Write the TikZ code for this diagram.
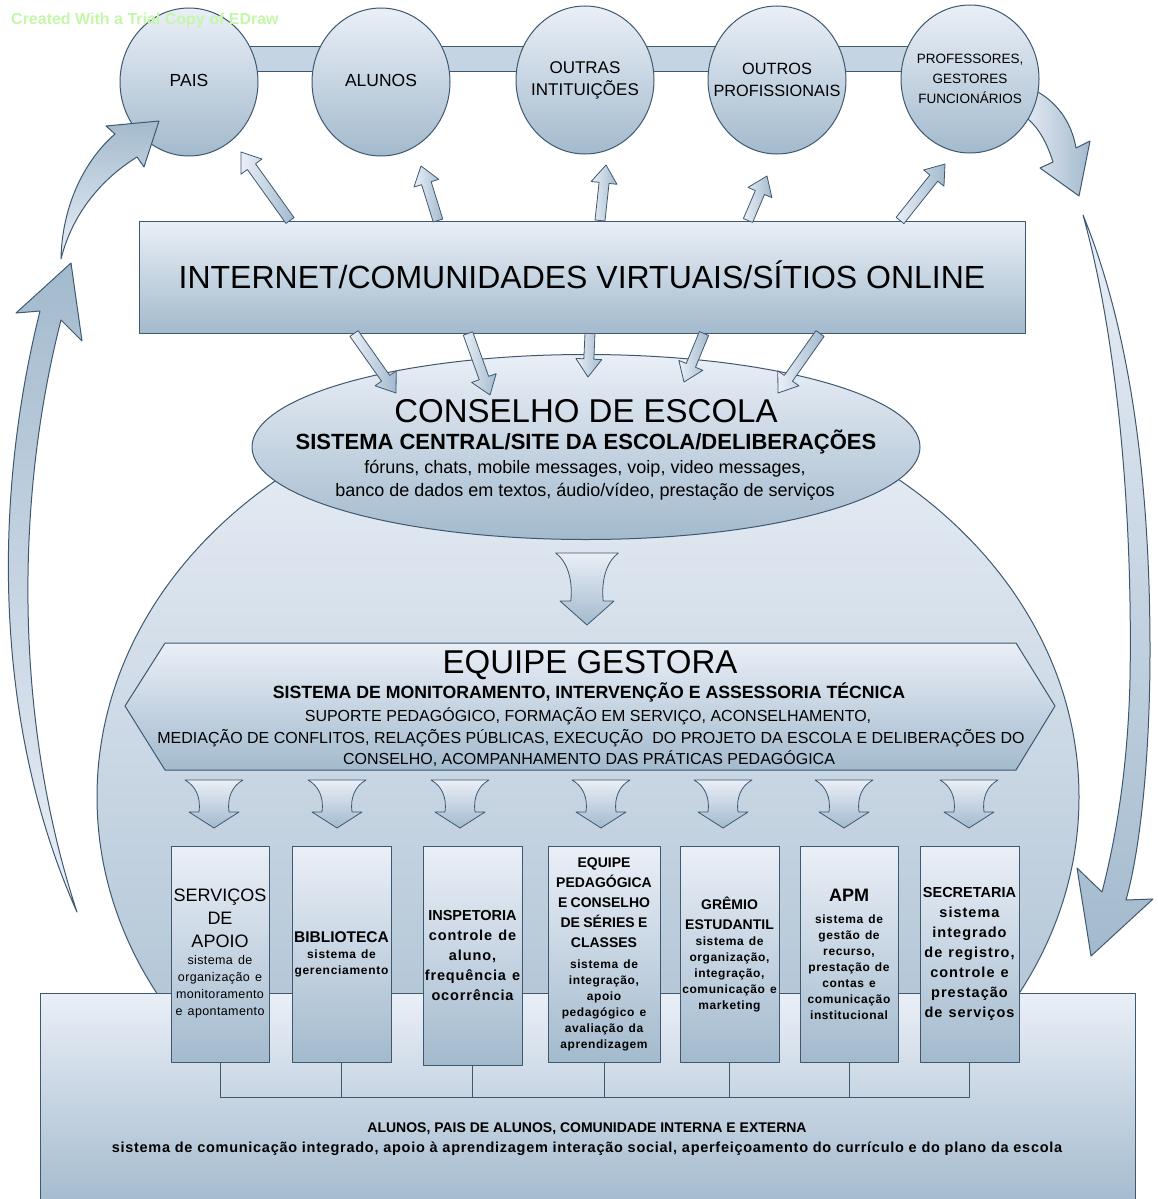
\documentclass[tikz,border=0pt]{standalone}
\usepackage{fontspec}
\setmainfont{Liberation Sans}
\usetikzlibrary{calc,shapes.geometric}

\definecolor{linec}{RGB}{62,88,112}
\definecolor{lightc}{RGB}{234,239,247}
\definecolor{darkc}{RGB}{163,186,205}
\definecolor{midc}{RGB}{196,212,226}
\definecolor{markc}{RGB}{196,247,168}

\newcommand{\setfs}[2]{\fontsize{#1}{#2}\selectfont}
\newcommand{\spread}[1]{\addfontfeatures{LetterSpace=#1}\spaceskip=0.42em\relax}
\newcommand{\blockarrow}[2]{%
  \draw[blockarr] ($(#1)!5pt!90:(#2)$) -- ($(#2)!18pt!(#1)!5pt!90:(#2)$)
    -- ($(#2)!18pt!(#1)!13pt!90:(#2)$) -- (#2)
    -- ($(#2)!18pt!(#1)!13pt!-90:(#2)$) -- ($(#2)!18pt!(#1)!5pt!-90:(#2)$)
    -- ($(#1)!5pt!-90:(#2)$) -- cycle;}

\begin{document}
\begin{tikzpicture}[x=1pt,y=-1pt,line join=round,
  grad/.style={draw=linec,line width=1pt,top color=lightc,bottom color=darkc},
  bubble/.style={grad,ellipse,minimum width=138pt,minimum height=148pt,inner sep=0pt},
  bubbletext/.style={align=center,inner sep=0pt,font=\setfs{17}{22}},
  unitbox/.style={grad,rectangle,minimum height=216pt,inner sep=1pt,text width=#1,align=center},
  blockarr/.style={draw=linec,line width=0.8pt,left color=lightc,right color=darkc},
  funnel/.style={draw=linec,line width=0.8pt,top color=lightc,bottom color=darkc},
  cres/.style={draw=linec,line width=1pt},
  treeline/.style={draw=linec,line width=1pt},
  txt/.style={anchor=base,inner sep=0pt},
  downarr/.pic={\draw[funnel] (-29,0) -- (29,0) .. controls (18,6) and (13,18) .. (15,32)
    -- (25,32) -- (0,48) -- (-25,32) -- (-15,32) .. controls (-13,18) and (-18,6) .. (-29,0) -- cycle;}
]
\useasboundingbox (0,0) rectangle (1158,1199);

% arrows round the picture
\draw[cres,top color=darkc,bottom color=lightc] (77,912) .. controls (0,740) and (-12,520) .. (40,311)
  -- (16,313) -- (71,263) -- (82,341) -- (61,320) .. controls (10,520) and (20,740) .. (77,912) -- cycle;
\draw[cres,left color=lightc,right color=darkc] (1018,90) -- (1038,92) .. controls (1060,105) and (1072,125) .. (1076,148)
  -- (1090,141) -- (1079,196) -- (1040,168) -- (1053,162) .. controls (1046,140) and (1036,122) .. (1018,112) -- cycle;
\draw[cres,top color=lightc,bottom color=darkc] (1083,215) .. controls (1130,330) and (1150,480) .. (1150,650)
  .. controls (1150,760) and (1140,850) .. (1126,900) -- (1153,899) -- (1091,956) -- (1077,868) -- (1102,892)
  .. controls (1118,830) and (1128,760) .. (1130,680) .. controls (1133,500) and (1115,330) .. (1083,215) -- cycle;

% people
\draw[draw=linec,line width=1pt,fill=midc] (189,47) rectangle (970,72);
\node[bubble] (pais) at (189,82) {};
\node[bubble] (alunos) at (381,82) {};
\node[bubble] (outras) at (585,80) {};
\node[bubble] (outros) at (777,80) {};
\node[bubble] (profs) at (970,79) {};
\node[bubbletext,font=\setfs{17.5}{22}] (paisT) at (189,80) {PAIS};
\node[bubbletext,font=\setfs{17.5}{22}] (alunosT) at (381,80) {ALUNOS};
\node[bubbletext] (outrasT) at (outras) {OUTRAS\\INTITUIÇÕES};
\node[bubbletext,font=\setfs{16.3}{22}] (outrosT) at (outros) {OUTROS\\PROFISSIONAIS};
\node[bubbletext,font=\setfs{13.5}{20}] (profsT) at (profs) {PROFESSORES,\\GESTORES\\FUNCIONÁRIOS};

\draw[cres,top color=darkc,bottom color=lightc] (61,259) .. controls (62,205) and (85,160) .. (115,134)
  -- (106,126) -- (159,121) -- (144,167) -- (137,157) .. controls (100,180) and (72,215) .. (61,259) -- cycle;

% school
\node[grad,ellipse,minimum width=982pt,minimum height=820pt,inner sep=0pt] (escola) at (588,797) {};
\node[grad,rectangle,minimum width=1095pt,minimum height=214pt,inner sep=0pt] (base) at (587.5,1100) {};
\node[txt,font=\bfseries\setfs{14}{17}] (baseT1) at (587,1132) {ALUNOS, PAIS DE ALUNOS, COMUNIDADE INTERNA E EXTERNA};
\node[txt,font=\bfseries\setfs{14.5}{17}\addfontfeatures{LetterSpace=5}] (baseT2) at (587,1152) {sistema de comunicação integrado, apoio à aprendizagem interação social, aperfeiçoamento do currículo e do plano da escola};

\node[unitbox=96pt] (serv) at (220,954)
  {{\setfs{18}{23}SERVIÇOS\\DE\\APOIO\par}{\setfs{12.5}{17}\spread{3}sistema de\\organização e\\monitoramento\\e apontamento\par}};
\node[unitbox=97pt] (bibl) at (341.5,954)
  {{\bfseries\setfs{15.5}{19}BIBLIOTECA\par}{\bfseries\setfs{12}{16}\spread{6}sistema de\\gerenciamento\par}};
\node[unitbox=97pt,minimum height=219pt] (insp) at (472.5,955.5)
  {{\bfseries\setfs{14.5}{20}INSPETORIA\par}{\bfseries\setfs{14.5}{20}\spread{6}controle de\\aluno,\\frequência e\\ocorrência\par}};
\node[unitbox=110pt] (eqped) at (604,954)
  {{\bfseries\setfs{14}{20}EQUIPE\\PEDAGÓGICA\\E CONSELHO\\DE SÉRIES E\\CLASSES\par}\vspace{5pt}%
   {\bfseries\setfs{12}{16}\spread{5}sistema de\\integração,\\apoio\\pedagógico e\\avaliação da\\aprendizagem\par}};
\node[unitbox=97pt] (gremio) at (729.5,954)
  {{\bfseries\setfs{14}{20}GRÊMIO\\ESTUDANTIL\par}{\bfseries\setfs{12}{16}\spread{5}sistema de\\organização,\\integração,\\comunicação e\\marketing\par}};
\node[unitbox=96pt] (apm) at (849,954)
  {{\bfseries\setfs{18}{22}APM\par}\vspace{6pt}%
   {\bfseries\setfs{12}{16}\spread{5}sistema de\\gestão de\\recurso,\\prestação de\\contas e\\comunicação\\institucional\par}};
\node[unitbox=97pt] (secr) at (969.5,954)
  {{\bfseries\setfs{14.5}{20}SECRETARIA\par}{\bfseries\setfs{14.5}{20}\spread{7}sistema\\integrado\\de registro,\\controle e\\prestação\\de serviços\par}};

\coordinate (bus) at (587,1097);
\foreach \b in {serv,bibl,insp,eqped,gremio,apm,secr}
  \draw[treeline] (\b.south) -- (\b.south |- bus);
\draw[treeline] (serv.south |- bus) -- (secr.south |- bus);

% management
\draw[grad] (125,706) -- (165,643) -- (1016,643) -- (1055,706) -- (1016,770) -- (165,770) -- cycle;
\node[txt,font=\setfs{33}{38}] (gestT1) at (590,673) {EQUIPE GESTORA};
\node[txt,font=\bfseries\setfs{17.7}{20}] (gestT2) at (589,698.5) {SISTEMA DE MONITORAMENTO, INTERVENÇÃO E ASSESSORIA TÉCNICA};
\node[txt,font=\setfs{16}{20}] (gestT3) at (588,721) {SUPORTE PEDAGÓGICO, FORMAÇÃO EM SERVIÇO, ACONSELHAMENTO,};
\node[txt,font=\setfs{16}{20}] (gestT4) at (591,743) {MEDIAÇÃO DE CONFLITOS, RELAÇÕES PÚBLICAS, EXECUÇÃO\ \ DO PROJETO DA ESCOLA E DELIBERAÇÕES DO};
\node[txt,font=\setfs{16}{20}] (gestT5) at (589,764) {CONSELHO, ACOMPANHAMENTO DAS PRÁTICAS PEDAGÓGICA};

\foreach \x in {214,337,460,601,723,844,969}
  \pic at (\x,780) {downarr};
\pic[xscale=1.08,yscale=1.5] at (587,553) {downarr};

% council
\node[grad,ellipse,minimum width=668pt,minimum height=185pt,inner sep=0pt] (conselho) at (586,447) {};
\node[txt,font=\setfs{33}{38}] (consT1) at (586,422) {CONSELHO DE ESCOLA};
\node[txt,font=\bfseries\setfs{22}{26}] (consT2) at (586,449.5) {SISTEMA CENTRAL/SITE DA ESCOLA/DELIBERAÇÕES};
\node[txt,font=\setfs{18}{22}] (consT3) at (585,473) {fóruns, chats, mobile messages, voip, video messages,};
\node[txt,font=\setfs{18}{22}] (consT4) at (585,496) {banco de dados em textos, áudio/vídeo, prestação de serviços};

% internet
\node[grad,rectangle,minimum width=886pt,minimum height=112pt,inner sep=0pt,text height=23pt,text depth=0pt,
  font=\setfs{32}{38}] (inet) at (582,277) {INTERNET/COMUNIDADES VIRTUAIS/SÍTIOS ONLINE};

\foreach \tx/\hx/\hy [count=\i] in {290/241/152,438/421/166,600/606/165,748/767/176,900/945/164}{
  \coordinate (up\i) at (\tx,0 |- inet.north);
  \coordinate (upTip\i) at (\hx,\hy);
  \blockarrow{up\i}{upTip\i}
}
\foreach \tx/\hx/\hy [count=\i] in {354/396/393,468/490/395,590/588/377,704/684/382,820/778/393}{
  \coordinate (down\i) at (\tx,0 |- inet.south);
  \coordinate (downTip\i) at (\hx,\hy);
  \blockarrow{down\i}{downTip\i}
}

\node[anchor=base west,inner sep=0pt,text=markc,font=\bfseries\setfs{16}{19}] (mark) at (11,25) {Created With a Trial Copy of EDraw};
\end{tikzpicture}
\end{document}
